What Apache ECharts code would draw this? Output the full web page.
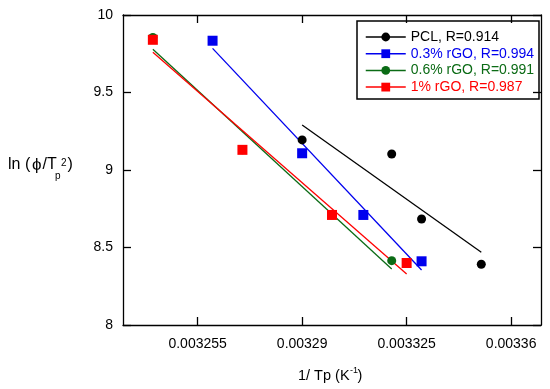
<!DOCTYPE html>
<html>
<head>
<meta charset="utf-8">
<script src="https://cdn.jsdelivr.net/npm/echarts@6/dist/echarts.min.js"></script>
<style>html,body{margin:0;padding:0;background:#fff}#c{width:550px;height:389px}</style>
</head>
<body>
<div id="c"></div>
<script>
// ---- data ----
var seriesNames = ['PCL, R=0.914', '0.3% rGO, R=0.994', '0.6% rGO, R=0.991', '1% rGO, R=0.987'];
var xTicks = [0.003255, 0.00329, 0.003325, 0.00336];
var yTicks = [8, 8.5, 9, 9.5, 10];

var pclX = [0.00329, 0.00332, 0.00333, 0.00335];
var pclY = [9.194, 9.103, 8.684, 8.392];
var pclFitX = [0.00329, 0.00335];
var pclFitY = [9.29, 8.469];

var rgo03X = [0.00326, 0.00329, 0.0033105, 0.00333];
var rgo03Y = [9.834, 9.108, 8.71, 8.411];
var rgo03FitX = [0.00326, 0.00333];
var rgo03FitY = [9.785, 8.355];

var rgo06X = [0.00324, 0.00327, 0.0033, 0.00332];
var rgo06Y = [9.855, 9.13, 8.71, 8.415];
var rgo06FitX = [0.00324, 0.00332];
var rgo06FitY = [9.779, 8.361];

var rgo1X = [0.00324, 0.00327, 0.0033, 0.003325];
var rgo1Y = [9.84, 9.13, 8.71, 8.40];
var rgo1FitX = [0.00324, 0.003325];
var rgo1FitY = [9.759, 8.329];

// ---- build ----
var FONT = '"Liberation Sans", Arial, sans-serif';
var colors = ['#000000', '#0000ee', '#0b6b15', '#ff0000'];
var symbols = ['circle', 'rect', 'circle', 'rect'];
var sizes = [9, 10, 9, 10];
var ptsX = [pclX, rgo03X, rgo06X, rgo1X];
var ptsY = [pclY, rgo03Y, rgo06Y, rgo1Y];
var fitX = [pclFitX, rgo03FitX, rgo06FitX, rgo1FitX];
var fitY = [pclFitY, rgo03FitY, rgo06FitY, rgo1FitY];

function zip(a, b) { return a.map(function (v, i) { return [v, b[i]]; }); }

var series = [];
for (var i = 0; i < 4; i++) {
  series.push({
    name: seriesNames[i] + ' fit', type: 'line', data: zip(fitX[i], fitY[i]),
    showSymbol: false, lineStyle: { color: colors[i], width: 1.3 }, z: 2, silent: true
  });
}
for (var j = 0; j < 4; j++) {
  series.push({
    name: seriesNames[j], type: 'line', data: zip(ptsX[j], ptsY[j]),
    symbol: symbols[j], symbolSize: sizes[j], showSymbol: true, showAllSymbol: true,
    itemStyle: { color: colors[j], opacity: 1 },
    lineStyle: { width: 0, opacity: 0, color: colors[j] }, z: 3
  });
}

function txt(t, x, y, s) {
  return { type: 'text', x: x, y: y, style: { text: t, font: s + 'px ' + FONT, fill: '#000', verticalAlign: 'middle', align: 'left' } };
}

var axisCommon = {
  type: 'value', min: 0.00323, max: 0.00337,
  splitLine: { show: false },
  axisLine: { show: true, lineStyle: { color: '#000', width: 1.3 } },
  axisTick: { show: true, inside: true, length: 8, customValues: xTicks, lineStyle: { color: '#000', width: 1.3 } }
};

var option = {
  animation: false,
  backgroundColor: '#fff',
  grid: { left: 123, top: 15, right: 9, bottom: 64, containLabel: false },
  xAxis: [
    Object.assign({}, axisCommon, {
      position: 'bottom',
      axisLabel: { show: true, customValues: xTicks, margin: 12, color: '#000', fontSize: 14, fontFamily: FONT,
        formatter: function (v) { return String(+v.toFixed(6)); } }
    }),
    Object.assign({}, axisCommon, { position: 'top', axisLabel: { show: false } })
  ],
  yAxis: [
    { type: 'value', min: 8, max: 10, interval: 0.5, position: 'left',
      splitLine: { show: false },
      axisLine: { show: true, lineStyle: { color: '#000', width: 1.3 } },
      axisTick: { show: true, inside: true, length: 8, lineStyle: { color: '#000', width: 1.3 } },
      axisLabel: { margin: 10, color: '#000', fontSize: 14, fontFamily: FONT,
        formatter: function (v) { return String(+v.toFixed(2)); } } },
    { type: 'value', min: 8, max: 10, interval: 0.5, position: 'right',
      splitLine: { show: false },
      axisLine: { show: true, lineStyle: { color: '#000', width: 1.3 } },
      axisTick: { show: true, inside: true, length: 8, lineStyle: { color: '#000', width: 1.3 } },
      axisLabel: { show: false } }
  ],
  legend: {
    orient: 'vertical', left: 365, top: 30, padding: 0,
    itemWidth: 40, itemHeight: 11, itemGap: 2.7,
    lineStyle: { width: 1.5, opacity: 1, type: 'solid' },
    textStyle: { fontSize: 14, fontFamily: FONT, lineHeight: 14 },
    selectedMode: false,
    data: seriesNames.map(function (n, k) { return { name: n, textStyle: { color: colors[k] } }; })
  },
  graphic: [
    { type: 'rect', shape: { x: 357, y: 21, width: 182, height: 78 }, style: { fill: '#fff', stroke: '#000', lineWidth: 1.5 }, z: 0 },
    // y axis title: ln (ϕ/Tp²)
    txt('ln (', 8, 165, 16), txt('\u03d5', 32, 165, 17), txt('/T', 42.5, 165, 16),
    txt('p', 55, 176, 10), txt('2', 61, 163, 10), txt(')', 67.5, 165, 16),
    // x axis title: 1/ Tp (K⁻¹)
    txt('1/ Tp (K', 298, 376, 14.5), txt('-1', 350, 370.5, 9), txt(')', 357.5, 376, 14.5)
  ],
  series: series
};

var chart = echarts.init(document.getElementById('c'), null, { renderer: 'canvas' });
chart.setOption(option);
</script>
</body>
</html>
